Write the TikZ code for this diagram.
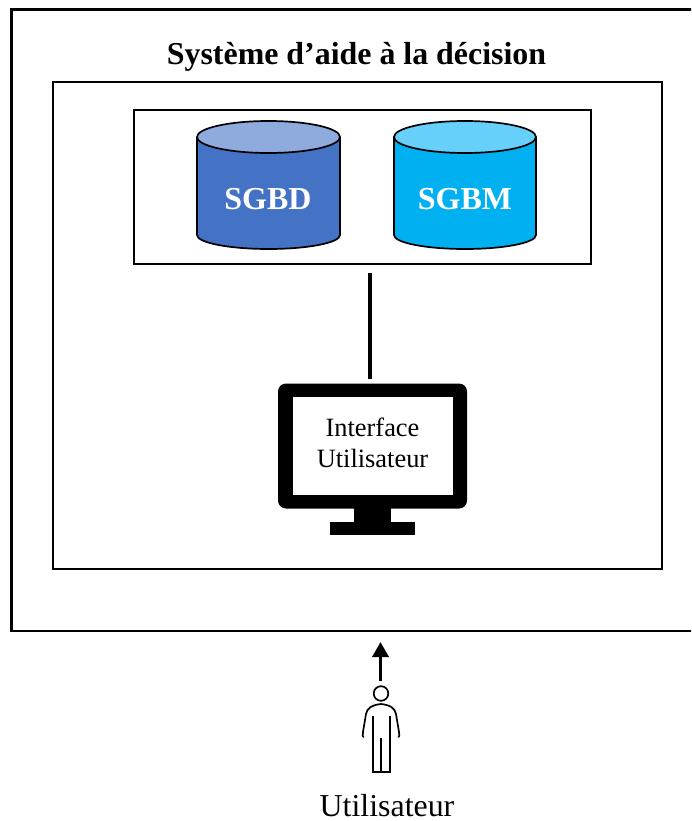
\documentclass[tikz,border=0pt]{standalone}
\usepackage{fontspec}
\setmainfont{Liberation Serif}
\usetikzlibrary{arrows.meta}
\definecolor{dbdark}{HTML}{4472C4}
\definecolor{dblight}{HTML}{8FAADC}
\definecolor{bmdark}{HTML}{00B0F0}
\definecolor{bmlight}{HTML}{66D0FA}
\tikzset{
  box/.style={draw=black,line width=#1,fill=none,inner sep=0pt},
  lbl/.style={inner sep=0pt,align=center},
  plainlbl/.style={inner sep=0pt,anchor=base},
}
\newcommand{\cyl}[4]{% left, right, dark, light
  \fill[#3] (#1,137) -- (#1,235) arc[start angle=180,end angle=0,x radius={(#2-#1)/2},y radius=14] -- (#2,137) -- cycle;
  \draw[line width=1.7pt,line join=round] (#1,137) -- (#1,235) arc[start angle=180,end angle=0,x radius={(#2-#1)/2},y radius=14] -- (#2,137);
  \filldraw[fill=#4,line width=1.7pt] ({(#1+#2)/2},137) ellipse[x radius={(#2-#1)/2},y radius=16];
}
\begin{document}
\begin{tikzpicture}[x=1pt,y=-1pt]
\useasboundingbox (0,0) rectangle (691,821);
% outer frame (open past the right edge)
\begin{scope}
\clip (0,0) rectangle (691,821);
\draw[line width=2.2pt] (695,9.5) -- (11.5,9.5) -- (11.5,631) -- (695,631);
\end{scope}
\node[plainlbl,font=\bfseries\fontsize{31.9}{34}\selectfont] (title) at (356.5,65) {Système d’aide à la décision};
\draw[line width=1.5pt] (53,82) rectangle (662,569);
\node[box=1.5pt,minimum width=457pt,minimum height=154pt] (store) at (362.5,187) {};
\cyl{197}{340}{dbdark}{dblight}
\cyl{394}{536}{bmdark}{bmlight}
\node[plainlbl,text=white,font=\bfseries\fontsize{32}{36}\selectfont] (sgbd) at (268,209) {SGBD};
\node[plainlbl,text=white,font=\bfseries\fontsize{32}{36}\selectfont] (sgbm) at (465,209) {SGBM};
% monitor
\fill[rounded corners=8pt] (278,383.5) rectangle (467,508.5);
\fill[white] (292.5,397) rectangle (453,495);
\fill (354,508) rectangle (391,522);
\fill (330,522) rectangle (415,535);
\node[lbl,font=\fontsize{26.4}{31}\selectfont] (ui) at (372.5,443) {Interface\\Utilisateur};
\coordinate (storeout) at (370,273);
\coordinate (uiin) at (370,379);
\draw[line width=3.4pt] (storeout) -- (uiin);
% person
\coordinate (pfoot) at (380.5,680.5);
\coordinate (ptop) at (380.5,642);
\draw[line width=3.6pt,-{Triangle[length=15pt,width=16pt]}] (pfoot) -- (ptop);
\draw[line width=1.7pt] (381,693.5) circle[radius=7.3];
\draw[line width=1.7pt,line join=round,line cap=round] (363.5,737) .. controls (362.5,737) and (362.5,735) .. (363,732) -- (366,714) .. controls (367,708) and (372,705) .. (381,704) .. controls (390,705) and (395,708) .. (396,714) -- (399,732) .. controls (399.5,735) and (399.5,737) .. (398.5,737);
\draw[line width=1.7pt,line join=miter] (372.7,716) -- (372.7,771.7) -- (390,771.7) -- (390,716);
\draw[line width=1.7pt] (381.3,738) -- (381.3,771.7);
\node[plainlbl,font=\fontsize{31.9}{34}\selectfont] (user) at (387,816.5) {Utilisateur};
\end{tikzpicture}
\end{document}
